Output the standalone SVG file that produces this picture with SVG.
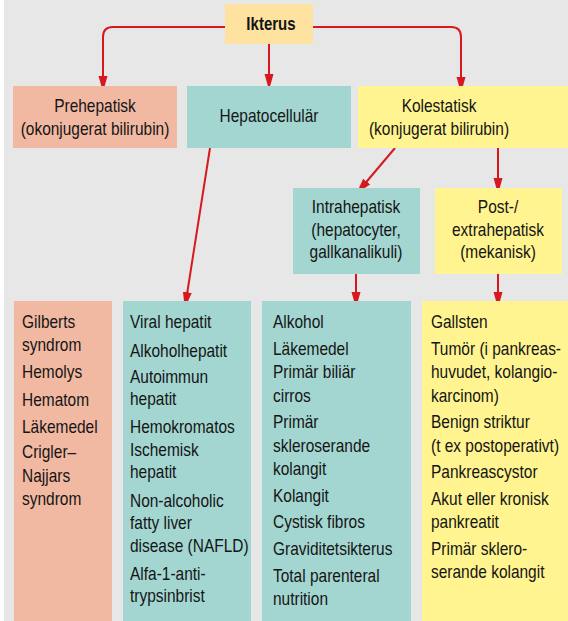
<svg xmlns="http://www.w3.org/2000/svg" width="568" height="621" viewBox="0 0 568 621">
<style>
text{font-family:"Liberation Sans",Arial,sans-serif;font-size:18px;fill:#151515}
.c{text-anchor:middle}
.b{font-weight:bold;font-size:17.5px}
.sal{fill:#f1b8a2}.teal{fill:#a3d6d1}.yel{fill:#fff48f}.ora{fill:#fee2a0}
.con{fill:none;stroke:#d7191f;stroke-width:2;marker-end:url(#ah)}
</style>
<defs>
<marker id="ah" markerUnits="userSpaceOnUse" viewBox="0 0 16 10" markerWidth="16" markerHeight="10" refX="15" refY="5" orient="auto">
<path d="M0,0.5 L16,5 L0,9.5 z" fill="#d7191f"/>
</marker>
</defs>
<rect x="0" y="0" width="568" height="621" fill="#ffffff"/>
<rect x="4" y="0" width="564" height="621" fill="#e7e7e7"/>

<g id="connectors">
<path class="con" d="M225,27 H113 Q103,27 103,37 V91"/>
<path class="con" d="M269,44 V89"/>
<path class="con" d="M313,27 H451 Q461,27 461,37 V92"/>
<path class="con" d="M210,148 L185,307"/>
<path class="con" d="M395,148 L357,193"/>
<path class="con" d="M498,148 V193"/>
<path class="con" d="M356,274 V307"/>
<path class="con" d="M498,274 V307"/>
</g>

<g id="ikterus">
<rect class="ora" x="225" y="4" width="88" height="40"/>
<text class="c b" transform="translate(271,30) scale(0.86,1)">Ikterus</text>
</g>
<g id="prehepatisk">
<rect class="sal" x="13" y="86" width="164" height="62"/>
<text class="c" transform="translate(95,112) scale(0.86,1)">Prehepatisk</text>
<text class="c" transform="translate(95,135) scale(0.86,1)">(okonjugerat bilirubin)</text>
</g>
<g id="hepatocellular">
<rect class="teal" x="187" y="86" width="164" height="62"/>
<text class="c" transform="translate(269,122) scale(0.86,1)">Hepatocellulär</text>
</g>
<g id="kolestatisk">
<rect class="yel" x="358" y="86" width="210" height="62"/>
<text class="c" transform="translate(439,112) scale(0.86,1)">Kolestatisk</text>
<text class="c" transform="translate(439,135) scale(0.86,1)">(konjugerat bilirubin)</text>
</g>
<g id="intrahepatisk">
<rect class="teal" x="293" y="188" width="127" height="86"/>
<text class="c" transform="translate(356,213) scale(0.86,1)">Intrahepatisk</text>
<text class="c" transform="translate(356,236) scale(0.86,1)">(hepatocyter,</text>
<text class="c" transform="translate(356,258) scale(0.86,1)">gallkanalikuli)</text>
</g>
<g id="posthepatisk">
<rect class="yel" x="435" y="188" width="127" height="86"/>
<text class="c" transform="translate(498,213) scale(0.86,1)">Post-/</text>
<text class="c" transform="translate(498,236) scale(0.86,1)">extrahepatisk</text>
<text class="c" transform="translate(498,258) scale(0.86,1)">(mekanisk)</text>
</g>
<g id="list-prehepatisk">
<rect class="sal" x="14" y="301" width="98" height="320"/>
<text transform="translate(22,328) scale(0.86,1)">Gilberts</text>
<text transform="translate(22,351) scale(0.86,1)">syndrom</text>
<text transform="translate(22,378) scale(0.86,1)">Hemolys</text>
<text transform="translate(22,406) scale(0.86,1)">Hematom</text>
<text transform="translate(22,433) scale(0.86,1)">Läkemedel</text>
<text transform="translate(22,458) scale(0.86,1)">Crigler–</text>
<text transform="translate(22,482) scale(0.86,1)">Najjars</text>
<text transform="translate(22,505) scale(0.86,1)">syndrom</text>
</g>
<g id="list-hepatocellular">
<rect class="teal" x="123" y="301" width="128" height="320"/>
<text transform="translate(130,328) scale(0.86,1)">Viral hepatit</text>
<text transform="translate(130,357) scale(0.86,1)">Alkoholhepatit</text>
<text transform="translate(130,383) scale(0.86,1)">Autoimmun</text>
<text transform="translate(130,405) scale(0.86,1)">hepatit</text>
<text transform="translate(130,433) scale(0.86,1)">Hemokromatos</text>
<text transform="translate(130,456) scale(0.86,1)">Ischemisk</text>
<text transform="translate(130,478) scale(0.86,1)">hepatit</text>
<text transform="translate(130,507) scale(0.86,1)">Non-alcoholic</text>
<text transform="translate(130,529) scale(0.86,1)">fatty liver</text>
<text transform="translate(130,552) scale(0.86,1)">disease (NAFLD)</text>
<text transform="translate(130,580) scale(0.86,1)">Alfa-1-anti-</text>
<text transform="translate(130,602) scale(0.86,1)">trypsinbrist</text>
</g>
<g id="list-intrahepatisk">
<rect class="teal" x="262" y="301" width="149" height="320"/>
<text transform="translate(273,328) scale(0.86,1)">Alkohol</text>
<text transform="translate(273,355) scale(0.86,1)">Läkemedel</text>
<text transform="translate(273,378) scale(0.86,1)">Primär biliär</text>
<text transform="translate(273,402) scale(0.86,1)">cirros</text>
<text transform="translate(273,428) scale(0.86,1)">Primär</text>
<text transform="translate(273,452) scale(0.86,1)">skleroserande</text>
<text transform="translate(273,475) scale(0.86,1)">kolangit</text>
<text transform="translate(273,502) scale(0.86,1)">Kolangit</text>
<text transform="translate(273,528) scale(0.86,1)">Cystisk fibros</text>
<text transform="translate(273,555) scale(0.86,1)">Graviditetsikterus</text>
<text transform="translate(273,582) scale(0.86,1)">Total parenteral</text>
<text transform="translate(273,605) scale(0.86,1)">nutrition</text>
</g>
<g id="list-posthepatisk">
<rect class="yel" x="422" y="301" width="146" height="320"/>
<text transform="translate(431,328) scale(0.86,1)">Gallsten</text>
<text transform="translate(431,355) scale(0.86,1)">Tumör (i pankreas-</text>
<text transform="translate(431,378) scale(0.86,1)">huvudet, kolangio-</text>
<text transform="translate(431,402) scale(0.86,1)">karcinom)</text>
<text transform="translate(431,428) scale(0.86,1)">Benign striktur</text>
<text transform="translate(431,452) scale(0.86,1)">(t ex postoperativt)</text>
<text transform="translate(431,478) scale(0.86,1)">Pankreascystor</text>
<text transform="translate(431,505) scale(0.86,1)">Akut eller kronisk</text>
<text transform="translate(431,528) scale(0.86,1)">pankreatit</text>
<text transform="translate(431,555) scale(0.86,1)">Primär sklero-</text>
<text transform="translate(431,578) scale(0.86,1)">serande kolangit</text>
</g>
</svg>
